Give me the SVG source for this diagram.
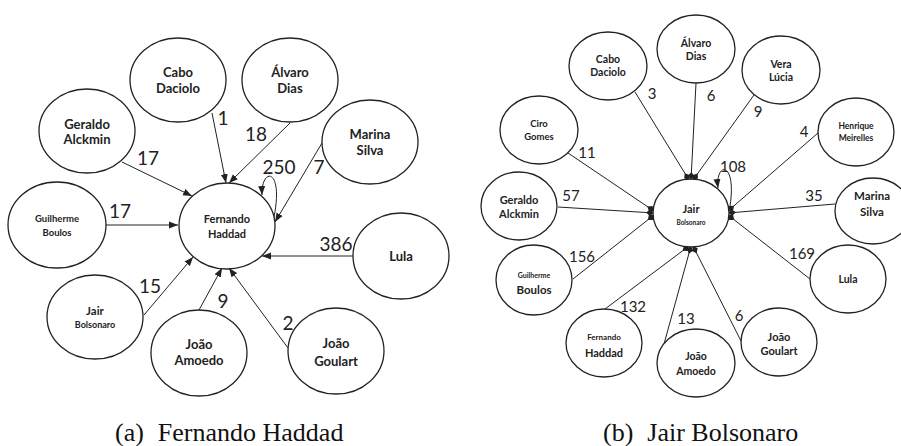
<svg xmlns="http://www.w3.org/2000/svg" width="901" height="446" viewBox="0 0 901 446">
<style>
.n ellipse{fill:#fff;stroke:#222;stroke-width:1.3}
.t{font-family:Lato,"Liberation Sans",sans-serif;font-weight:bold;fill:#222;text-anchor:middle;dominant-baseline:central}
.e{fill:none;stroke:#222;stroke-width:1}
.ea{marker-end:url(#ah)}
.eb{marker-end:url(#bh)}
.w{font-family:Lato,"Liberation Sans",sans-serif;fill:#222;text-anchor:middle;dominant-baseline:central}
.wa{font-size:19px}
.wb{font-size:15px}
.cap{font-family:"Liberation Serif","Times New Roman",serif;font-size:26px;fill:#111}
</style>
<defs>
<marker id="ah" markerUnits="userSpaceOnUse" markerWidth="10" markerHeight="8" refX="9" refY="4" orient="auto"><path d="M0,0.5 L9,4 L0,7.5 Z" fill="#222"/></marker>
<marker id="bh" markerUnits="userSpaceOnUse" markerWidth="10" markerHeight="8" refX="8" refY="4" orient="auto"><path d="M0,4 L4,0.8 L8,4 L4,7.2 Z" fill="#222"/></marker>
</defs>

<g id="connectors">
<g id="edges-a">
<line class="e ea" x1="212" y1="113" x2="226" y2="183"/>
<line class="e ea" x1="290" y1="123" x2="229" y2="183"/>
<line class="e ea" x1="122" y1="162" x2="192" y2="196"/>
<line class="e ea" x1="322" y1="143" x2="275" y2="222"/>
<line class="e ea" x1="106" y1="225" x2="178" y2="225"/>
<line class="e ea" x1="353" y1="256" x2="262" y2="256"/>
<line class="e ea" x1="144" y1="315" x2="193" y2="257"/>
<line class="e ea" x1="199" y1="310" x2="222" y2="268"/>
<line class="e ea" x1="288" y1="348" x2="229" y2="268"/>
<path class="e ea" d="M274,217 C284,167 261,167 262,195"/>
</g>
<g id="edges-b">
<line class="e eb" x1="635" y1="92" x2="689" y2="180"/>
<line class="e eb" x1="696" y1="83" x2="691" y2="180"/>
<line class="e eb" x1="754" y1="95" x2="693" y2="180"/>
<line class="e eb" x1="568" y1="153" x2="654" y2="211"/>
<line class="e eb" x1="818" y1="133" x2="728" y2="211"/>
<line class="e eb" x1="558" y1="207" x2="654" y2="213"/>
<line class="e eb" x1="835" y1="204" x2="728" y2="213"/>
<line class="e eb" x1="573" y1="279" x2="654" y2="215"/>
<line class="e eb" x1="810" y1="279" x2="728" y2="215"/>
<line class="e eb" x1="605" y1="309" x2="689" y2="246"/>
<line class="e eb" x1="664" y1="344" x2="691" y2="246"/>
<line class="e eb" x1="741" y1="341" x2="693" y2="246"/>
<path class="e ea" d="M730,206 C737,160 715,162 718,188"/>
</g>
<g id="edge-labels-a">
<text class="w wa" x="223" y="117">1</text>
<text class="w wa" x="256" y="133">18</text>
<text class="w wa" x="148" y="157">17</text>
<text class="w wa" x="279" y="166">250</text>
<text class="w wa" x="319" y="166">7</text>
<text class="w wa" x="120" y="210">17</text>
<text class="w wa" x="336" y="243">386</text>
<text class="w wa" x="150" y="285">15</text>
<text class="w wa" x="223" y="300">9</text>
<text class="w wa" x="288" y="322">2</text>
</g>
<g id="edge-labels-b">
<text class="w wb" x="652" y="93">3</text>
<text class="w wb" x="711" y="95">6</text>
<text class="w wb" x="758" y="111">9</text>
<text class="w wb" x="587" y="152">11</text>
<text class="w wb" x="804" y="131">4</text>
<text class="w wb" x="733" y="166">108</text>
<text class="w wb" x="571" y="195">57</text>
<text class="w wb" x="814" y="195">35</text>
<text class="w wb" x="582" y="256">156</text>
<text class="w wb" x="802" y="253">169</text>
<text class="w wb" x="633" y="306">132</text>
<text class="w wb" x="686" y="318">13</text>
<text class="w wb" x="739" y="315">6</text>
</g>
</g>

<g id="nodes-a">
<g id="a-cabo" class="n"><ellipse cx="178" cy="80" rx="48" ry="42"/><text class="t" font-size="13" x="178" y="72">Cabo</text><text class="t" font-size="13" x="178" y="88">Daciolo</text></g>
<g id="a-alvaro" class="n"><ellipse cx="290" cy="80" rx="48" ry="42"/><text class="t" font-size="13" x="290" y="72">Álvaro</text><text class="t" font-size="13" x="290" y="88">Dias</text></g>
<g id="a-geraldo" class="n"><ellipse cx="87" cy="131" rx="48" ry="42"/><text class="t" font-size="13" x="87" y="124">Geraldo</text><text class="t" font-size="13" x="87" y="139">Alckmin</text></g>
<g id="a-marina" class="n"><ellipse cx="370" cy="142" rx="48" ry="42"/><text class="t" font-size="13" x="370" y="134">Marina</text><text class="t" font-size="13" x="370" y="150">Silva</text></g>
<g id="a-haddad" class="n"><ellipse cx="227" cy="226" rx="48" ry="43"/><text class="t" font-size="11" x="227" y="218">Fernando</text><text class="t" font-size="11" x="227" y="233">Haddad</text></g>
<g id="a-guilherme" class="n"><ellipse cx="57" cy="225" rx="49" ry="43"/><text class="t" font-size="9.5" x="57" y="218">Guilherme</text><text class="t" font-size="9.5" x="57" y="232">Boulos</text></g>
<g id="a-lula" class="n"><ellipse cx="401" cy="256" rx="48" ry="43"/><text class="t" font-size="13" x="401" y="256">Lula</text></g>
<g id="a-jair" class="n"><ellipse cx="95" cy="317" rx="48" ry="42"/><text class="t" font-size="11.5" x="95" y="310">Jair</text><text class="t" font-size="9" x="95" y="324">Bolsonaro</text></g>
<g id="a-amoedo" class="n"><ellipse cx="199" cy="353" rx="48" ry="43"/><text class="t" font-size="13" x="199" y="344">João</text><text class="t" font-size="13" x="199" y="360">Amoedo</text></g>
<g id="a-goulart" class="n"><ellipse cx="336" cy="351" rx="48" ry="43"/><text class="t" font-size="13" x="336" y="343">João</text><text class="t" font-size="13" x="336" y="361">Goulart</text></g>
</g>

<g id="nodes-b">
<g id="b-cabo" class="n"><ellipse cx="608" cy="66" rx="39" ry="34"/><text class="t" font-size="10.5" x="608" y="59">Cabo</text><text class="t" font-size="10.5" x="608" y="72">Daciolo</text></g>
<g id="b-alvaro" class="n"><ellipse cx="696" cy="49" rx="39" ry="34"/><text class="t" font-size="10.5" x="696" y="43">Álvaro</text><text class="t" font-size="10.5" x="696" y="56">Dias</text></g>
<g id="b-vera" class="n"><ellipse cx="781" cy="70" rx="39" ry="34"/><text class="t" font-size="10.5" x="781" y="64">Vera</text><text class="t" font-size="10.5" x="781" y="77">Lúcia</text></g>
<g id="b-ciro" class="n"><ellipse cx="539" cy="130" rx="39" ry="34"/><text class="t" font-size="9.5" x="539" y="123">Ciro</text><text class="t" font-size="9.5" x="539" y="136">Gomes</text></g>
<g id="b-henrique" class="n"><ellipse cx="856" cy="132" rx="38" ry="34"/><text class="t" font-size="8.5" x="856" y="126">Henrique</text><text class="t" font-size="8.5" x="856" y="138">Meirelles</text></g>
<g id="b-jair" class="n"><ellipse cx="691" cy="213" rx="38" ry="34"/><text class="t" font-size="11" x="691" y="208">Jair</text><text class="t" font-size="6.5" x="691" y="222">Bolsonaro</text></g>
<g id="b-geraldo" class="n"><ellipse cx="519" cy="206" rx="38" ry="34"/><text class="t" font-size="11" x="519" y="199">Geraldo</text><text class="t" font-size="11" x="519" y="213">Alckmin</text></g>
<g id="b-marina" class="n"><ellipse cx="873" cy="211" rx="38" ry="33"/><text class="t" font-size="11.5" x="872" y="195">Marina</text><text class="t" font-size="11.5" x="872" y="211">Silva</text></g>
<g id="b-guilherme" class="n"><ellipse cx="534" cy="280" rx="38" ry="35"/><text class="t" font-size="7" x="534" y="275">Guilherme</text><text class="t" font-size="11.5" x="534" y="289">Boulos</text></g>
<g id="b-lula" class="n"><ellipse cx="848" cy="279" rx="38" ry="34"/><text class="t" font-size="10.5" x="848" y="279">Lula</text></g>
<g id="b-haddad" class="n"><ellipse cx="604" cy="343" rx="38" ry="34"/><text class="t" font-size="8" x="604" y="337">Fernando</text><text class="t" font-size="11" x="604" y="352">Haddad</text></g>
<g id="b-amoedo" class="n"><ellipse cx="696" cy="363" rx="39" ry="34"/><text class="t" font-size="10.5" x="696" y="356">João</text><text class="t" font-size="10.5" x="696" y="371">Amoedo</text></g>
<g id="b-goulart" class="n"><ellipse cx="779" cy="342" rx="38" ry="34"/><text class="t" font-size="11" x="779" y="336">João</text><text class="t" font-size="11" x="779" y="350">Goulart</text></g>
</g>

<g id="captions">
<text class="cap" x="115" y="441">(a)<tspan dx="14">Fernando Haddad</tspan></text>
<text class="cap" x="603" y="441">(b)<tspan dx="14">Jair Bolsonaro</tspan></text>
</g>
</svg>
